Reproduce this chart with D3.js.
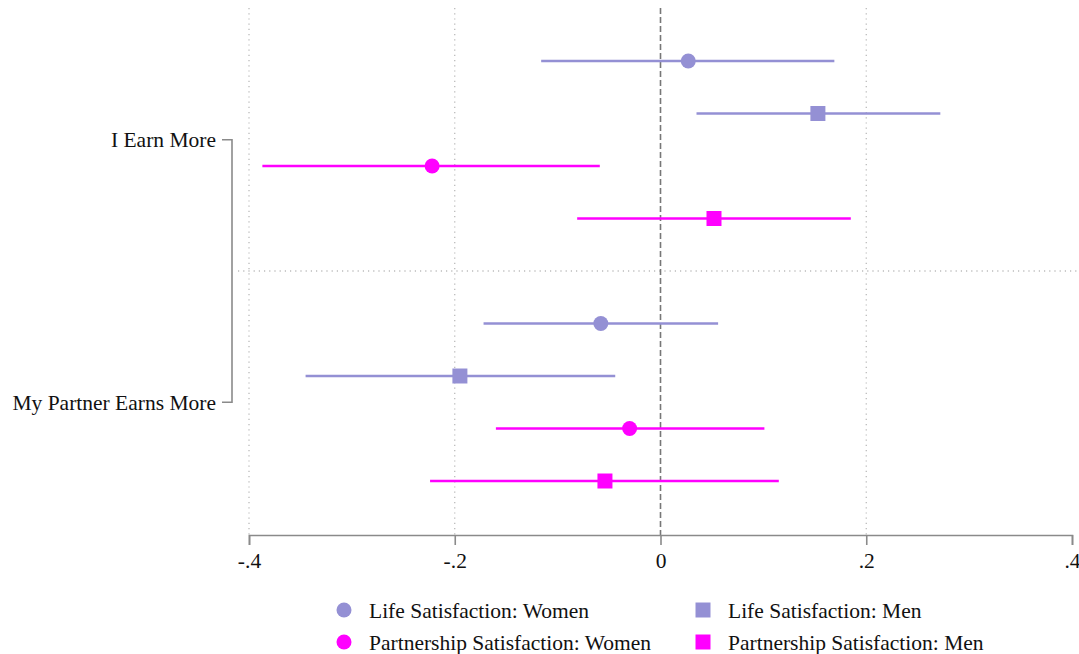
<!DOCTYPE html>
<html>
<head>
<meta charset="utf-8">
<script src="https://cdn.jsdelivr.net/npm/d3@7"></script>
<style>
  body { margin: 0; background: #fff; }
  svg text { font-family: "Liberation Serif", "DejaVu Serif", serif; fill: #111; }
</style>
</head>
<body>
<svg id="chart" width="1079" height="654"></svg>
<script>
// group labels
var groups = ['I Earn More', 'My Partner Earns More'];
// series (order within each group)
var series = ['Life Satisfaction: Women', 'Life Satisfaction: Men',
  'Partnership Satisfaction: Women', 'Partnership Satisfaction: Men'];
var seriesColor = ['#9490d4', '#9490d4', '#ff00ff', '#ff00ff'];
var seriesShape = ['circle', 'square', 'circle', 'square'];
// estimates and confidence bounds, group 1 then group 2
var estI = [0.027, 0.153, -0.222, 0.052];
var lowI = [-0.116, 0.035, -0.387, -0.081];
var highI = [0.169, 0.272, -0.059, 0.185];
var estP = [-0.058, -0.195, -0.030, -0.054];
var lowP = [-0.172, -0.345, -0.160, -0.224];
var highP = [0.056, -0.044, 0.101, 0.115];
var xTicks = [-0.4, -0.2, 0, 0.2, 0.4];

var svg = d3.select('#chart');
var gray = '#8a8a8a';
var fontSize = 21.5;

var x = d3.scaleLinear().domain([-0.4, 0.4]).range([249, 1072]);
// row positions: 0..3 group 1, 4 = divider, 5..8 group 2
var y = d3.scaleLinear().domain([-1, 9]).range([8.5, 533.5]);

var rows = [];
series.forEach(function (s, i) {
  rows.push({ s: i, row: i, est: estI[i], lo: lowI[i], hi: highI[i] });
});
series.forEach(function (s, i) {
  rows.push({ s: i, row: i + 5, est: estP[i], lo: lowP[i], hi: highP[i] });
});

// vertical grid
svg.append('g').selectAll('line')
  .data([-0.4, -0.2, 0.2])
  .enter().append('line')
  .attr('x1', function (d) { return x(d); })
  .attr('x2', function (d) { return x(d); })
  .attr('y1', 8).attr('y2', 535)
  .attr('stroke', '#b5b5b5')
  .attr('stroke-width', 1.2)
  .attr('stroke-dasharray', '1.2,4');

// group divider
svg.append('line')
  .attr('x1', 238).attr('x2', 1079)
  .attr('y1', y(4)).attr('y2', y(4))
  .attr('stroke', '#999')
  .attr('stroke-width', 1.2)
  .attr('stroke-dasharray', '1.2,4');

// zero line
svg.append('line')
  .attr('x1', x(0)).attr('x2', x(0))
  .attr('y1', 8).attr('y2', 535)
  .attr('stroke', '#777')
  .attr('stroke-width', 1.6)
  .attr('stroke-dasharray', '6,3');

// CI lines
svg.append('g').selectAll('line')
  .data(rows)
  .enter().append('line')
  .attr('x1', function (d) { return x(d.lo); })
  .attr('x2', function (d) { return x(d.hi); })
  .attr('y1', function (d) { return y(d.row); })
  .attr('y2', function (d) { return y(d.row); })
  .attr('stroke', function (d) { return seriesColor[d.s]; })
  .attr('stroke-width', 2.5);

// markers
var sym = {
  circle: d3.symbol().type(d3.symbolCircle).size(Math.PI * 7.5 * 7.5),
  square: d3.symbol().type(d3.symbolSquare).size(15 * 15)
};
svg.append('g').selectAll('path')
  .data(rows)
  .enter().append('path')
  .attr('transform', function (d) { return 'translate(' + x(d.est) + ',' + y(d.row) + ')'; })
  .attr('d', function (d) { return sym[seriesShape[d.s]](); })
  .attr('fill', function (d) { return seriesColor[d.s]; });

// x axis
var xAxis = d3.axisBottom(x)
  .tickValues(xTicks)
  .tickSize(10)
  .tickFormat(function (d) {
    if (d === 0) return '0';
    return (d < 0 ? '-' : '') + d3.format('.1f')(Math.abs(d)).replace('0.', '.');
  });
var ax = svg.append('g')
  .attr('transform', 'translate(0,535)')
  .call(xAxis);
ax.select('.domain').attr('stroke', gray).attr('stroke-width', 1.6);
ax.selectAll('.tick line').attr('stroke', gray).attr('stroke-width', 1.6);
ax.selectAll('.tick text')
  .attr('font-size', fontSize)
  .attr('font-family', '"Liberation Serif", serif')
  .attr('fill', '#111')
  .attr('dy', '0.95em');

// group bracket on the left
var gy = [(y(0) + y(3)) / 2, (y(5) + y(8)) / 2];
svg.append('path')
  .attr('d', 'M222,' + gy[0] + 'H232V' + gy[1] + 'H222')
  .attr('fill', 'none')
  .attr('stroke', gray)
  .attr('stroke-width', 1.6);
svg.append('g').selectAll('text')
  .data(groups)
  .enter().append('text')
  .attr('x', 216)
  .attr('y', function (d, i) { return gy[i]; })
  .attr('dy', '0.35em')
  .attr('text-anchor', 'end')
  .attr('font-size', fontSize)
  .text(function (d) { return d; });

// legend
var legX = [344, 703];
var legY = [610, 642];
var leg = svg.append('g').selectAll('g')
  .data(series)
  .enter().append('g')
  .attr('transform', function (d, i) {
    return 'translate(' + legX[i % 2] + ',' + legY[Math.floor(i / 2)] + ')';
  });
leg.append('path')
  .attr('d', function (d, i) { return sym[seriesShape[i]](); })
  .attr('fill', function (d, i) { return seriesColor[i]; });
leg.append('text')
  .attr('x', 25)
  .attr('dy', '0.35em')
  .attr('font-size', fontSize)
  .text(function (d) { return d; });
</script>
</body>
</html>
